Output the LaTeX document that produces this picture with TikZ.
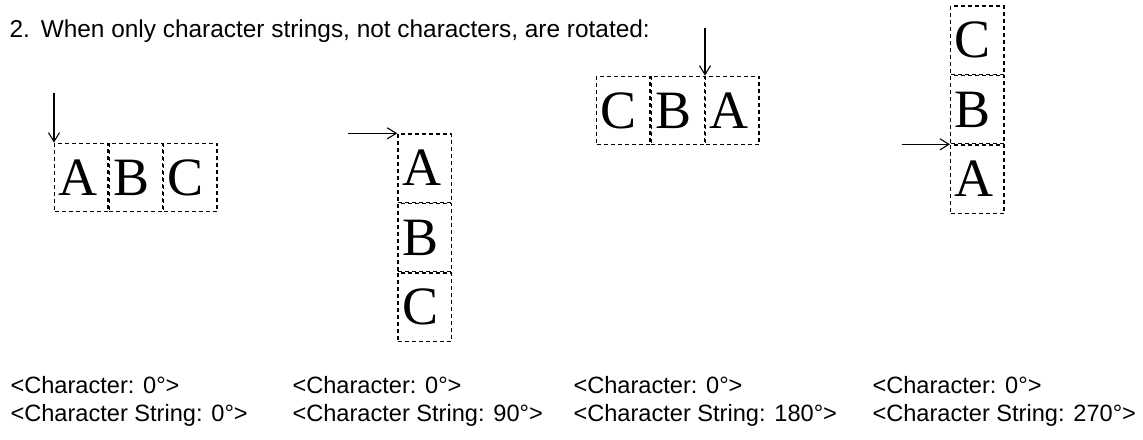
\documentclass[tikz,border=0pt]{standalone}
\usepackage{fontspec}
\setmainfont{Liberation Sans}
\newfontfamily\letterfont{Liberation Serif}
\usetikzlibrary{positioning, arrows.meta}
\begin{document}
\begin{tikzpicture}[x=1pt, y=-1pt, line width=1pt,
    pointer/.style={-{Straight Barb[length=9pt, width=11pt, line width=1.1pt]}, line width=1.1pt},
    cell/.style={draw, line width=1.2pt, dash pattern=on 4pt off 3pt, text width=45pt, align=left, inner xsep=4.15pt,
        inner ysep=0pt, minimum height=68.3pt, font=\letterfont\fontsize{54}{54}\selectfont},
    caption/.style={anchor=base west, inner sep=0pt, font=\fontsize{23.6}{28}\selectfont}]
    \useasboundingbox (0,0) rectangle (1143,439);
    \node[caption, font=\fontsize{24.4}{28}\selectfont] (title) at (9,37) {2.\hspace{11pt}When only character strings, not characters, are rotated:};
    % string at 0 deg: left to right, arrow from above
    \node[cell, anchor=north west] (a1) at (54,142.7) {A};
    \node[cell, right=0pt of a1] (b1) {B};
    \node[cell, right=0pt of b1] (c1) {C};
    \coordinate (s1) at (54,92.7);
    \draw[pointer] (s1) -- (a1.north west);
    % string at 90 deg: top to bottom, arrow from the left
    \node[cell, anchor=north west] (a2) at (397.3,133.3) {A};
    \node[cell, below=0pt of a2] (b2) {B};
    \node[cell, below=0pt of b2] (c2) {C};
    \coordinate (s2) at (348,133.3);
    \draw[pointer] (s2) -- (a2.north west);
    % string at 180 deg: right to left
    \node[cell, anchor=north west] (a3) at (705,75.7) {A};
    \node[cell, left=0pt of a3] (b3) {B};
    \node[cell, left=0pt of b3] (c3) {C};
    \coordinate (s3) at (705,28);
    \draw[pointer] (s3) -- (a3.north west);
    % string at 270 deg: bottom to top
    \node[cell, anchor=north west] (a4) at (950,144.3) {A};
    \node[cell, above=0pt of a4] (b4) {B};
    \node[cell, above=0pt of b4] (c4) {C};
    \coordinate (s4) at (901.7,144.3);
    \draw[pointer] (s4) -- (a4.north west);
    % ... captions
    \foreach \x/\r [count=\i] in {10/0, 292/90, 573/180, 872/270} {
        \node[caption] (chr\i) at (\x,393) {<Character: 0°>};
        \node[caption] (str\i) at (\x,421) {<Character String: \r°>};
    }
\end{tikzpicture}
\end{document}
